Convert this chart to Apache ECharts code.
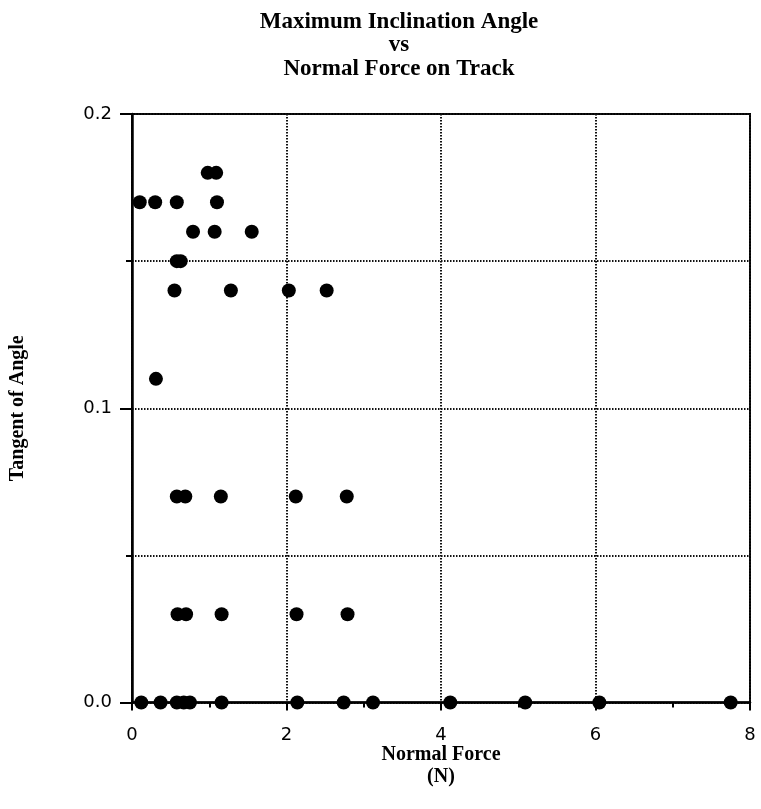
<!DOCTYPE html>
<html>
<head>
<meta charset="utf-8">
<title>Maximum Inclination Angle vs Normal Force on Track</title>
<script src="https://cdn.jsdelivr.net/npm/echarts@6/dist/echarts.min.js"></script>
<style>
  html, body { margin: 0; padding: 0; background: #fff; }
  #chart { width: 761px; height: 809px; }
</style>
</head>
<body>
<div id="chart"></div>
<script>
// Measured runs: normal force on the track (N) and tangent of the maximum inclination angle
const normalForce = [
  0.98, 1.09,
  0.10, 0.30, 0.58, 1.10,
  0.79, 1.07, 1.55,
  0.58, 0.63,
  0.55, 1.28, 2.03, 2.52,
  0.31,
  0.58, 0.69, 1.15, 2.12, 2.78,
  0.59, 0.70, 1.16, 2.13, 2.79,
  0.12, 0.37, 0.58, 0.67, 0.75, 1.16, 2.14, 2.74, 3.12, 4.12, 5.09, 6.05, 7.75
];
const tangentOfAngle = [
  0.18, 0.18,
  0.17, 0.17, 0.17, 0.17,
  0.16, 0.16, 0.16,
  0.15, 0.15,
  0.14, 0.14, 0.14, 0.14,
  0.11,
  0.07, 0.07, 0.07, 0.07, 0.07,
  0.03, 0.03, 0.03, 0.03, 0.03,
  0, 0, 0, 0, 0, 0, 0, 0, 0, 0, 0, 0, 0
];

const titleLines = ['Maximum Inclination Angle', 'vs', 'Normal Force on Track'];
const xAxisTitle = ['Normal Force', '(N)'];
const yAxisTitle = 'Tangent of Angle';

const points = normalForce.map((x, i) => [x, tangentOfAngle[i]]);

const serif = '"Liberation Serif", "Times New Roman", serif';
const sans = '"DejaVu Sans", "Liberation Sans", sans-serif';
const gridDots = { color: '#111', width: 2, type: [1.5, 1.5] };

const chart = echarts.init(document.getElementById('chart'), null, { renderer: 'canvas' });
chart.setOption({
  animation: false,
  backgroundColor: '#fff',
  title: {
    text: titleLines.join('\n'),
    left: 394,
    top: 5,
    textAlign: 'center',
    textStyle: {
      fontFamily: serif,
      fontWeight: 'bold',
      fontSize: 23,
      lineHeight: 23.5,
      color: '#000'
    }
  },
  grid: {
    left: 132,
    right: 11,
    top: 114,
    bottom: 106.5,
    show: true,
    borderColor: '#000',
    borderWidth: 2,
    containLabel: false
  },
  xAxis: {
    type: 'value',
    min: 0,
    max: 8,
    interval: 2,
    name: xAxisTitle.join('\n'),
    nameLocation: 'middle',
    nameGap: 41,
    nameMoveOverlap: false,
    nameTextStyle: {
      fontFamily: serif,
      fontWeight: 'bold',
      fontSize: 20,
      lineHeight: 22,
      color: '#000'
    },
    axisLine: { show: true, lineStyle: { color: '#000', width: 2.5 } },
    axisTick: { show: true, length: 8, lineStyle: { color: '#000', width: 2 } },
    minorTick: { show: true, splitNumber: 2, length: 5, lineStyle: { color: '#000', width: 2 } },
    axisLabel: {
      margin: 24,
      fontFamily: sans,
      fontSize: 18,
      color: '#000',
      formatter: v => String(v)
    },
    splitLine: { show: true, lineStyle: gridDots }
  },
  yAxis: {
    type: 'value',
    min: 0,
    max: 0.2,
    interval: 0.1,
    name: yAxisTitle,
    nameLocation: 'middle',
    nameRotate: 90,
    nameGap: 104,
    nameMoveOverlap: false,
    nameTextStyle: {
      fontFamily: serif,
      fontWeight: 'bold',
      fontSize: 20,
      color: '#000'
    },
    axisLine: { show: true, lineStyle: { color: '#000', width: 2.5 } },
    axisTick: { show: true, length: 12, lineStyle: { color: '#000', width: 2 } },
    minorTick: { show: true, splitNumber: 2, length: 6, lineStyle: { color: '#000', width: 2 } },
    axisLabel: {
      margin: 20,
      fontFamily: sans,
      fontSize: 18,
      color: '#000',
      formatter: v => v.toFixed(1)
    },
    splitLine: { show: true, lineStyle: gridDots },
    minorSplitLine: { show: true, lineStyle: gridDots }
  },
  series: [{
    type: 'scatter',
    data: points,
    symbol: 'circle',
    symbolSize: 14,
    clip: false,
    itemStyle: { color: '#000', opacity: 1 }
  }]
});
</script>
</body>
</html>
